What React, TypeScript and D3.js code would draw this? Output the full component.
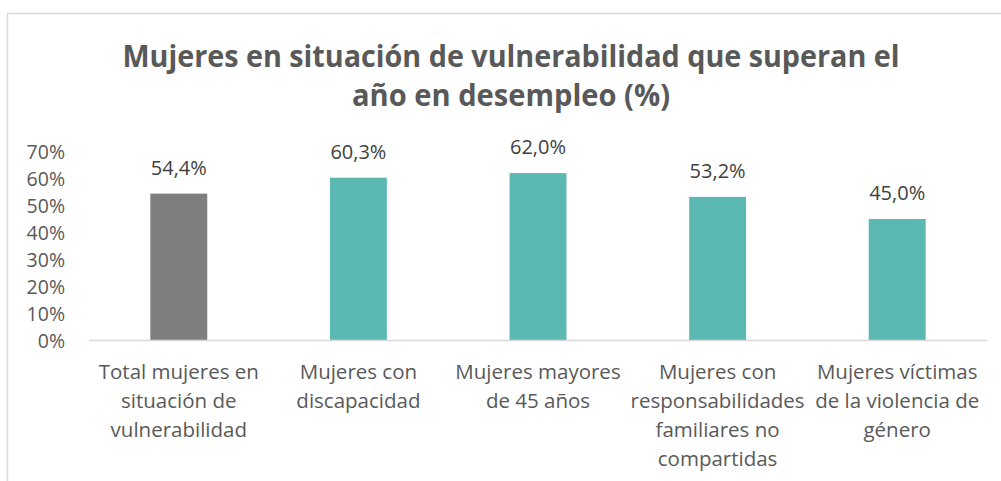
import React from "react";
import * as d3 from "d3";

const categories: string[][] = [
  ["Total mujeres en", "situación de", "vulnerabilidad"],
  ["Mujeres con", "discapacidad"],
  ["Mujeres mayores", "de 45 años"],
  ["Mujeres con", "responsabilidades", "familiares no", "compartidas"],
  ["Mujeres víctimas", "de la violencia de", "género"],
];
const values: number[] = [54.4, 60.3, 62.0, 53.2, 45.0];
const valueLabels: string[] = ["54,4%", "60,3%", "62,0%", "53,2%", "45,0%"];
const barColors: string[] = ["#7f7f7f", "#5cb8b2", "#5cb8b2", "#5cb8b2", "#5cb8b2"];
const yTicks: number[] = [0, 10, 20, 30, 40, 50, 60, 70];
const titleLines: string[] = [
  "Mujeres en situación de vulnerabilidad que superan el",
  "año en desempleo (%)",
];

const W = 1001;
const H = 481;
const FONT = "'Open Sans', sans-serif";

export default function App() {
  const x = d3
    .scaleBand<number>()
    .domain(d3.range(values.length))
    .range([89, 987])
    .paddingInner(0.683)
    .paddingOuter(0.3415);
  const y = d3.scaleLinear().domain([0, 70]).range([340.5, 151.5]);

  return (
    <svg
      width={W}
      height={H}
      style={{ position: "absolute", left: 0, top: 0, background: "#fff" }}
    >
      <rect x={0} y={0} width={W} height={H} fill="#fff" />
      <rect x={7.5} y={13.5} width={1100} height={600} fill="none" stroke="#d9d9d9" strokeWidth={1.5} />
      {titleLines.map((t, i) => (
        <text
          key={i}
          x={511}
          y={67 + i * 39}
          textAnchor="middle"
          fontFamily={FONT}
          fontWeight={700}
          fontSize={30}
          fill="#595959"
          textLength={i === 0 ? 777 : 318}
          lengthAdjust="spacingAndGlyphs"
        >
          {t}
        </text>
      ))}
      {yTicks.map((t) => (
        <text
          key={t}
          x={65}
          y={y(t)}
          dy="0.36em"
          textAnchor="end"
          fontFamily={FONT}
          fontSize={19.5}
          fill="#595959"
        >
          {t}%
        </text>
      ))}
      {values.map((v, i) => (
        <rect
          key={i}
          x={x(i)!}
          y={y(v)}
          width={x.bandwidth()}
          height={y(0) - y(v)}
          fill={barColors[i]}
        />
      ))}
      <line x1={89} x2={987} y1={340.5} y2={340.5} stroke="#d9d9d9" strokeWidth={1.5} />
      {values.map((v, i) => (
        <text
          key={i}
          x={x(i)! + x.bandwidth() / 2}
          y={y(v) - 19}
          textAnchor="middle"
          fontFamily={FONT}
          fontSize={20}
          fill="#404040"
        >
          {valueLabels[i]}
        </text>
      ))}
      {categories.map((lines, i) => (
        <text
          key={i}
          textAnchor="middle"
          fontFamily={FONT}
          fontSize={20.5}
          fill="#595959"
        >
          {lines.map((l, j) => (
            <tspan key={j} x={x(i)! + x.bandwidth() / 2} y={379 + j * 29}>
              {l}
            </tspan>
          ))}
        </text>
      ))}
    </svg>
  );
}
